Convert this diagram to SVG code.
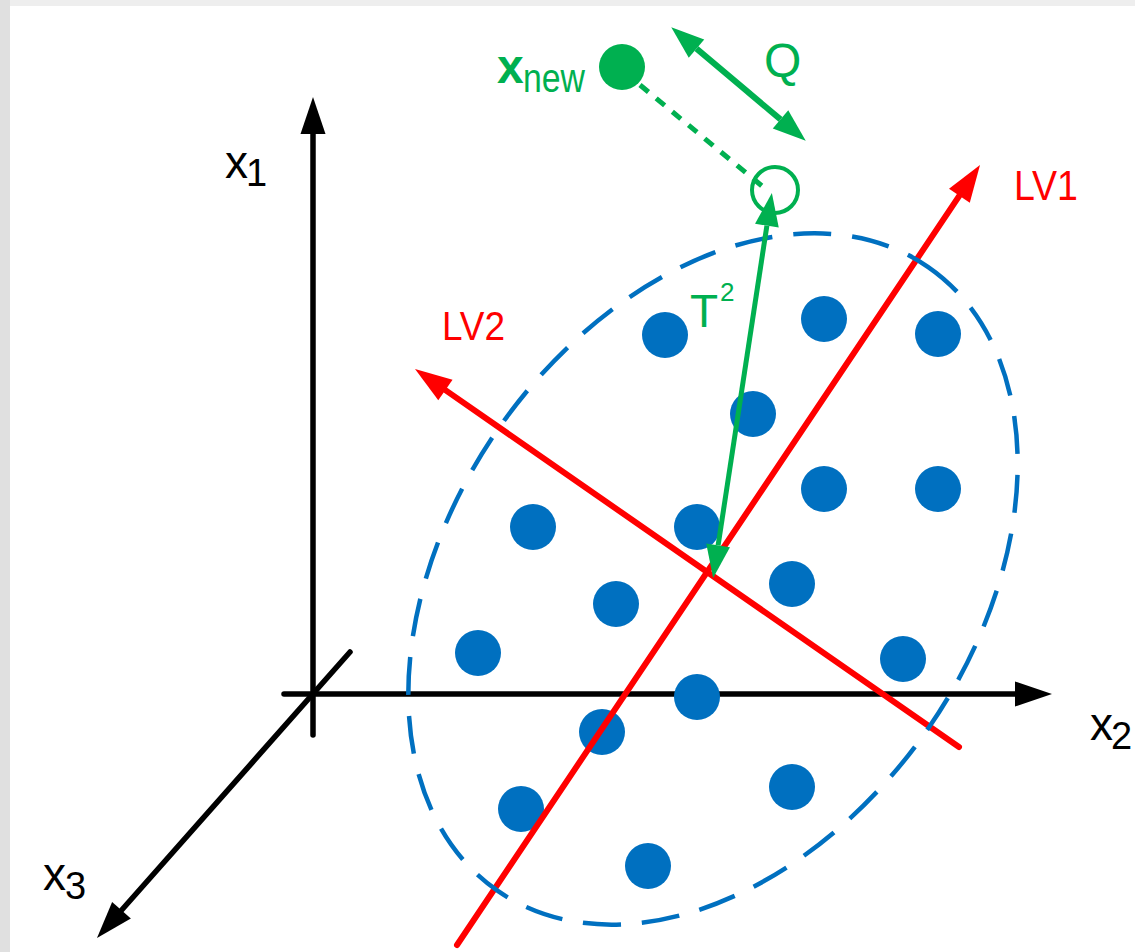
<svg xmlns="http://www.w3.org/2000/svg" width="1135" height="952" viewBox="0 0 1135 952">
<style>
.ax{stroke:#000;stroke-width:5.5;fill:none;stroke-linecap:round}
.lv{stroke:#FF0000;stroke-width:6;fill:none;stroke-linecap:round}
.pt{fill:#0070C0}
.g{stroke:#00B050;fill:none}
.lbl{font-family:"Liberation Sans",Arial,sans-serif}
.blk{fill:#000}
.red{fill:#FF0000}
.grn{fill:#00B050}
</style>
<defs>
<marker id="hk" markerUnits="userSpaceOnUse" markerWidth="40" markerHeight="30" refX="0" refY="12.5" orient="auto-start-reverse" viewBox="0 0 40 25" overflow="visible"><path d="M0,0 L37,12.5 L0,25 z" fill="#000"/></marker>
<marker id="hr" markerUnits="userSpaceOnUse" markerWidth="40" markerHeight="30" refX="0" refY="12.5" orient="auto-start-reverse" viewBox="0 0 40 25" overflow="visible"><path d="M0,0 L37,12.5 L0,25 z" fill="#FF0000"/></marker>
<marker id="hg" markerUnits="userSpaceOnUse" markerWidth="36" markerHeight="26" refX="0" refY="12" orient="auto-start-reverse" viewBox="0 0 36 24" overflow="visible"><path d="M0,0 L33,12 L0,24 z" fill="#00B050"/></marker>
</defs>
<g id="background">
<rect x="0" y="0" width="1135" height="952" fill="#eeeeee"/>
<rect x="0" y="0" width="10" height="952" fill="#e0e0e0"/>
<rect x="10" y="6" width="1125" height="946" fill="#ffffff"/>
</g>
<g id="axis-x1">
<line class="ax" x1="313" y1="735" x2="313" y2="134" marker-end="url(#hk)"/>
<text class="lbl blk" x="225" y="178" font-size="46">x</text>
<text class="lbl blk" x="246" y="186" font-size="38">1</text>
</g>
<g id="axis-x2">
<line class="ax" x1="284" y1="694" x2="1015" y2="694" marker-end="url(#hk)"/>
<text class="lbl blk" x="1090" y="740" font-size="46">x</text>
<text class="lbl blk" x="1111" y="749" font-size="38">2</text>
</g>
<g id="axis-x3">
<line class="ax" x1="350" y1="652" x2="121.5" y2="910.3" marker-end="url(#hk)"/>
<text class="lbl blk" x="43" y="890" font-size="46">x</text>
<text class="lbl blk" x="65" y="899" font-size="38">3</text>
</g>
<g id="points">
<circle class="pt" cx="665" cy="335" r="23"/>
<circle class="pt" cx="824" cy="319" r="23"/>
<circle class="pt" cx="938" cy="334" r="23"/>
<circle class="pt" cx="753" cy="414" r="23"/>
<circle class="pt" cx="824" cy="489" r="23"/>
<circle class="pt" cx="938" cy="489" r="23"/>
<circle class="pt" cx="533" cy="527" r="23"/>
<circle class="pt" cx="697" cy="527" r="23"/>
<circle class="pt" cx="616" cy="604" r="23"/>
<circle class="pt" cx="792" cy="584" r="23"/>
<circle class="pt" cx="478" cy="653" r="23"/>
<circle class="pt" cx="903" cy="659" r="23"/>
<circle class="pt" cx="697" cy="697" r="23"/>
<circle class="pt" cx="602" cy="732" r="23"/>
<circle class="pt" cx="521" cy="809" r="23"/>
<circle class="pt" cx="792" cy="787" r="23"/>
<circle class="pt" cx="648" cy="866" r="23"/>
</g>
<g id="lv1">
<line class="lv" x1="457" y1="945" x2="959.4" y2="195.7" marker-end="url(#hr)"/>
<text class="lbl red" x="1014" y="200" font-size="42" textLength="64" lengthAdjust="spacingAndGlyphs">LV1</text>
</g>
<g id="lv2">
<line class="lv" x1="959" y1="747" x2="445.4" y2="390.1" marker-end="url(#hr)"/>
<text class="lbl red" x="442" y="340" font-size="40" textLength="63" lengthAdjust="spacingAndGlyphs">LV2</text>
</g>
<g id="ellipse">
<ellipse cx="713" cy="579" rx="379" ry="262" transform="rotate(-55.4 713 579)" fill="none" stroke="#0070C0" stroke-width="4.5" stroke-dasharray="38 21"/>
</g>
<g id="xnew">
<circle cx="622" cy="67" r="23" fill="#00B050"/>
<text class="lbl grn" x="497" y="83" font-size="48" font-weight="bold">x</text>
<text class="lbl grn" x="523" y="92" font-size="40" textLength="62" lengthAdjust="spacingAndGlyphs">new</text>
</g>
<g id="projection">
<circle cx="775" cy="190" r="23" fill="none" stroke="#00B050" stroke-width="4"/>
</g>
<g id="connectors">
<line class="g" x1="640" y1="85" x2="768" y2="191" stroke-width="5" stroke-dasharray="11 10"/>
<line class="g" x1="696.5" y1="48.6" x2="780.5" y2="119.4" stroke-width="6" marker-start="url(#hg)" marker-end="url(#hg)"/>
<line class="g" x1="766.9" y1="225.6" x2="718.1" y2="545.4" stroke-width="5" marker-start="url(#hg)" marker-end="url(#hg)"/>
</g>
<g id="labels">
<text class="lbl grn" x="764" y="77" font-size="48">Q</text>
<text class="lbl grn" x="690" y="327" font-size="46">T</text>
<text class="lbl grn" x="720" y="301" font-size="26">2</text>
</g>
</svg>
